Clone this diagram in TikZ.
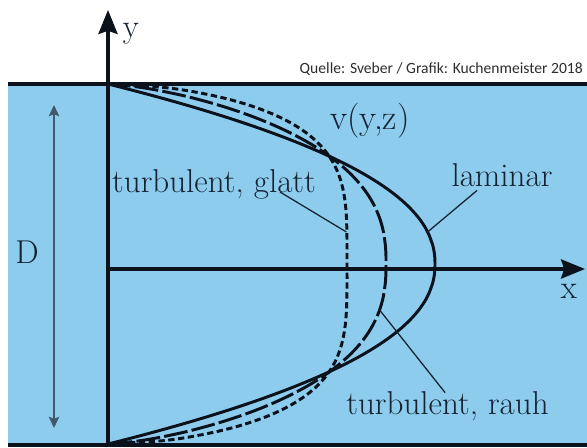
\documentclass[tikz,border=0pt]{standalone}
\usepackage{fontspec}
\usepackage{tikz}
\usetikzlibrary{arrows.meta, positioning, calc}
\newfontfamily\srcfont{Carlito}
\definecolor{mypipe}{RGB}{142,204,238}
\definecolor{mydark}{RGB}{12,18,28}
\definecolor{mytext}{RGB}{20,34,50}
\definecolor{myslate}{RGB}{66,88,108}
\definecolor{mysrc}{RGB}{45,45,45}
\tikzset{
  wall/.style={line width=2.8pt, color=mydark},
  axisline/.style={line width=2.2pt, color=mydark,
    -{Stealth[length=0.6cm, width=0.48cm, inset=0.08cm]}},
  profile/.style={line width=2.1pt, color=mydark, domain=-1:1,
    samples=120, variable=\t, smooth},
  rauhprofile/.style={profile, dash pattern=on 17pt off 3pt},
  glattprofile/.style={profile, dash pattern=on 4.5pt off 2.5pt},
  txt/.style={font=\fontsize{23.5}{26}\selectfont\addfontfeatures{FakeBold=1.2},
    text=mytext, inner sep=0pt},
  srcnode/.style={font=\srcfont\fontsize{11.1}{13}\selectfont, text=mysrc, inner sep=0pt},
  leader/.style={line width=0.9pt, color=mytext},
  dimarrow/.style={line width=1.4pt, color=myslate,
    {Stealth[length=0.28cm, width=0.26cm, inset=0.05cm]}-{Stealth[length=0.28cm, width=0.26cm, inset=0.05cm]}}
}
\begin{document}
\begin{tikzpicture}
  \useasboundingbox (-2.7,-4.45) rectangle (11.975,6.725);

  % Pipe
  \fill[mypipe] (-2.5,-4.45) rectangle (11.975,4.625);
  \draw[wall] (-2.5,4.625) -- (11.975,4.625);
  \draw[wall] (-2.5,-4.39) -- (11.975,-4.39);

  % Axes
  \coordinate (O) at (0,0);
  \coordinate (ybot) at (0,-4.39);
  \coordinate (ytip) at (0,6.475);
  \coordinate (xtip) at (11.925,0);
  \draw[axisline] (ybot) -- (ytip);
  \draw[axisline] (O) -- (xtip);
  \node[txt] (ylab) at (0.575,5.875) {y};
  \node[txt] (xlab) at (11.525,-0.5625) {x};

  % Diameter
  \coordinate (Dtop) at (-1.35,4.1);
  \coordinate (Dbot) at (-1.35,-3.975);
  \draw[dimarrow] (Dtop) -- (Dbot);
  \node[txt] (D) at (-2.025,0.425) {D};

  % Velocity profiles
  \draw[profile] plot ({8.175*(1-abs(\t)^2.2)}, {0.125+4.5*\t});
  \draw[rauhprofile] plot ({6.95*max(1-abs(\t)^2.5,0.0001)^0.7}, {0.125+4.5*\t});
  \draw[glattprofile] plot ({5.975*max(1-abs(\t)^4,0.0001)^0.566}, {0.125+4.5*\t});

  % Labels
  \node[txt, font=\fontsize{25}{28}\selectfont\addfontfeatures{FakeBold=1.2}] (vyz) at (6.55,3.7) {v(y,z)};
  \node[txt] (lam) at (9.85,2.34) {laminar};
  \node[txt] (glatt) at (2.65,2.11) {turbulent, glatt};
  \node[txt] (rauh) at (8.4875,-3.425) {turbulent, rauh};
  \node[srcnode, anchor=east] (src) at (11.875,5.0) {Quelle: Sveber / Grafik: Kuchenmeister 2018};

  % Leader lines
  \coordinate (lamend) at (7.99,0.925);
  \coordinate (glattend) at (5.96,0.925);
  \coordinate (rauhend) at (6.79,-1.025);
  \draw[leader] (lam.south) ++(-0.625,-0.08) -- (lamend);
  \draw[leader] (glatt.center) ++(1.65,-0.185) -- (glattend);
  \draw[leader] (rauh.north) ++(-0.06,-0.04) -- (rauhend);
\end{tikzpicture}
\end{document}
